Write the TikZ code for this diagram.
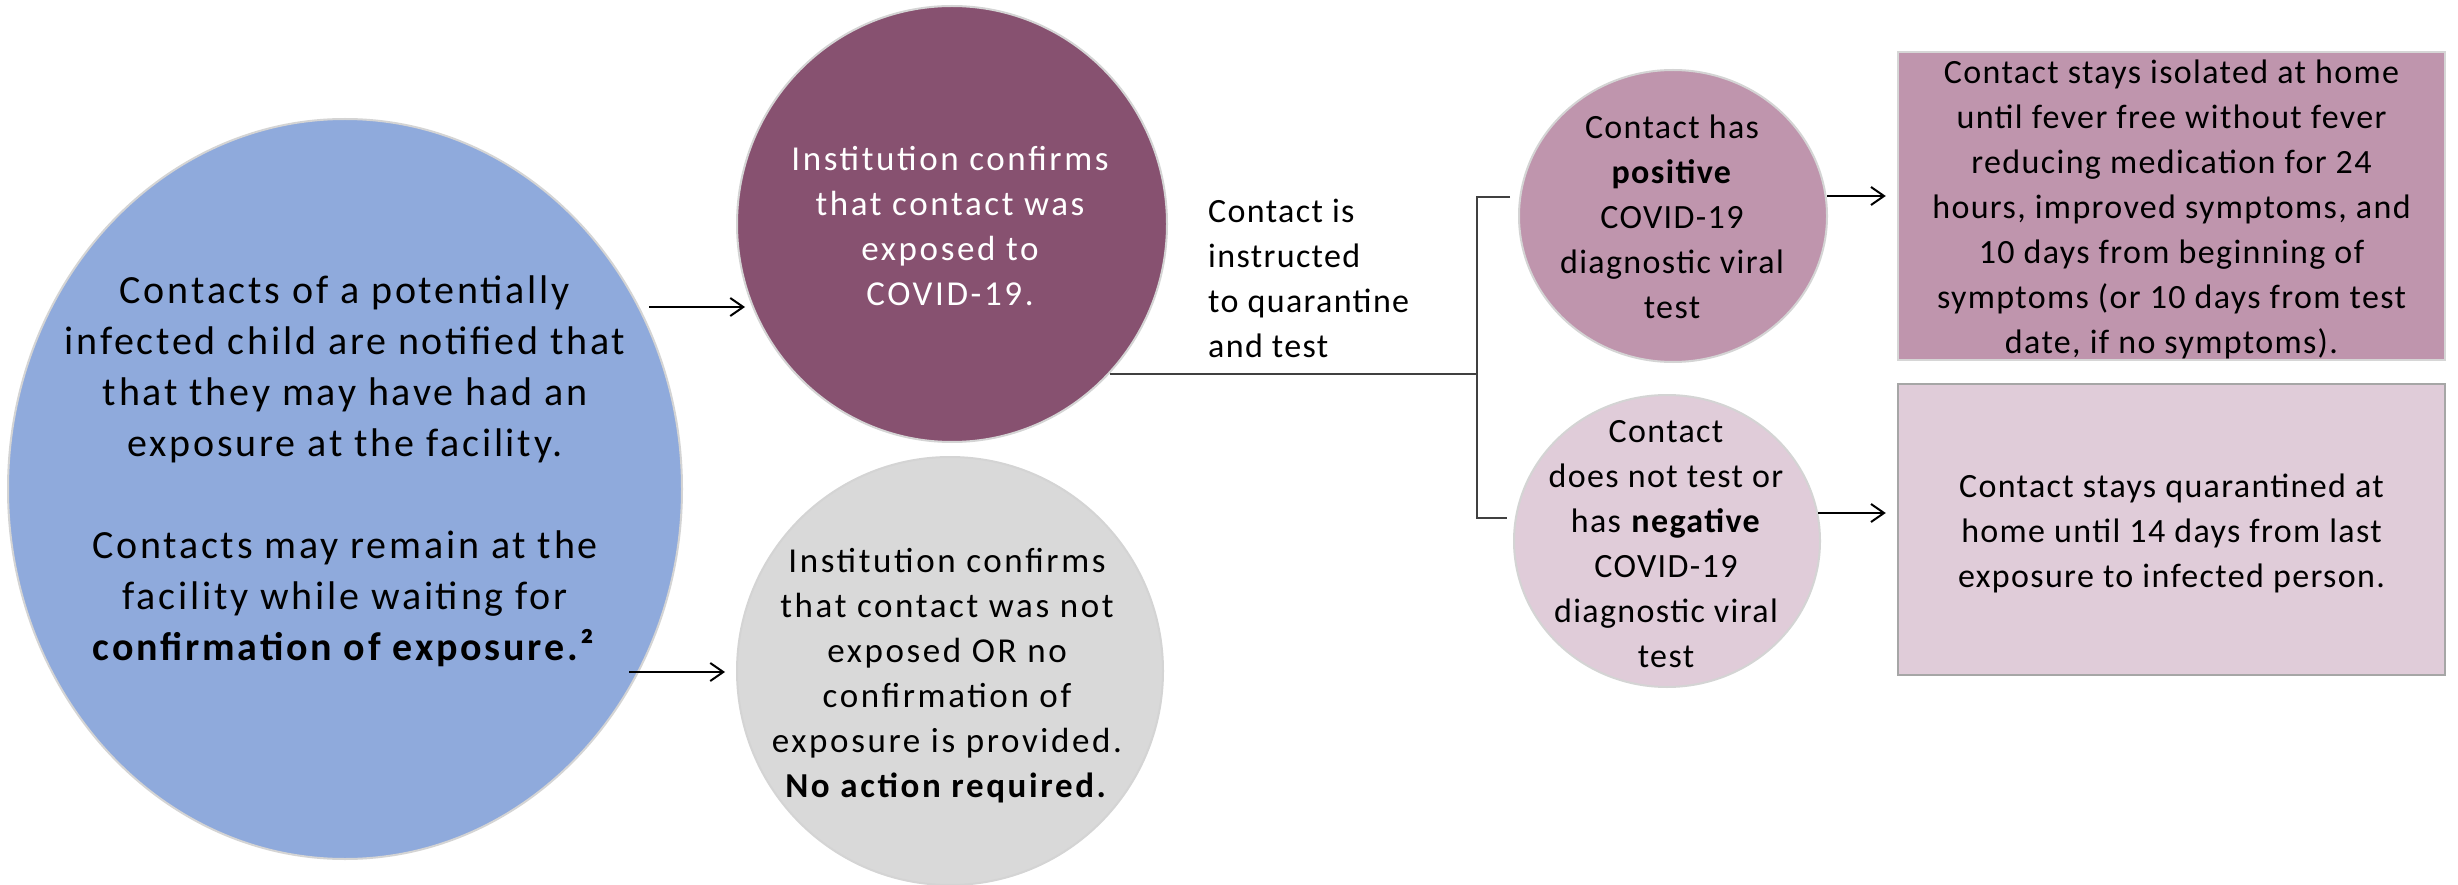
\documentclass[tikz,border=0pt]{standalone}
\usepackage{fontspec}
\setmainfont{Carlito}
\newfontfamily\fwide[LetterSpace=7]{Carlito}
\newfontfamily\fmid[LetterSpace=7.5]{Carlito}
\newfontfamily\fnarrow[LetterSpace=4]{Carlito}
\usetikzlibrary{shapes.geometric,arrows.meta,calc}
\definecolor{blueC}{HTML}{8FAADC}
\definecolor{purpleC}{HTML}{875170}
\definecolor{grayC}{HTML}{D9D9D9}
\definecolor{pinkC}{HTML}{BF95AD}
\definecolor{lpinkC}{HTML}{E0CCD9}
\definecolor{edgeC}{HTML}{D4D4D4}
\definecolor{boxedgeA}{HTML}{D6D6D6}
\definecolor{boxedgeB}{HTML}{A6A6A6}
\definecolor{lineC}{HTML}{404040}
\tikzset{
  circ/.style={ellipse, inner sep=0pt, draw=edgeC, line width=2pt},
  boxst/.style={rectangle, inner sep=0pt, line width=2.5pt},
  txt/.style={anchor=north, align=center, inner sep=0pt},
  bigfont/.style={font={\fwide\fontsize{40}{51}\selectfont}},
  midfont/.style={font={\fmid\fontsize{35}{45}\selectfont}},
  smallfont/.style={font={\fnarrow\fontsize{34}{45}\selectfont}},
  arr/.style={draw=black, line width=2pt, -{Straight Barb[length=13pt,width=18pt]}},
  conn/.style={draw=lineC, line width=2pt}
}
\begin{document}
\begin{tikzpicture}[x=1pt,y=-1pt]
\useasboundingbox (0,0) rectangle (2458,885);
\fill[white] (0,0) rectangle (2458,885);

% shapes
\node[circ, fill=blueC, minimum width=674, minimum height=740] (blue) at (345,489) {};
\node[circ, fill=purpleC, minimum width=430, minimum height=436] (purple) at (952,224) {};
\node[circ, fill=grayC, minimum width=426, minimum height=428] (gray) at (950,671) {};
\node[circ, fill=pinkC, minimum width=308, minimum height=292] (pos) at (1673,216) {};
\node[circ, fill=lpinkC, minimum width=306, minimum height=292] (neg) at (1667,541) {};
\node[boxst, fill=pinkC, draw=boxedgeA, minimum width=547, minimum height=308] (box1) at (2171.5,206) {};
\node[boxst, fill=lpinkC, draw=boxedgeB, minimum width=547, minimum height=291] (box2) at (2171.5,529.5) {};

% texts
\node[txt, bigfont] (btxt) at ($(blue.center)+(0,-221.7)$)
  {\strut Contacts of a potentially\\ infected child are notified that\\ that they may have had an\\ exposure at the facility.\\[51pt]
   Contacts may remain at the\\ facility while waiting for\\ \textbf{confirmation of exposure.²}};
\node[txt, midfont, text=white] (ptxt) at ($(purple.center)+(-2,-85.5)$)
  {\strut Institution confirms\\ that contact was\\ exposed to\\ COVID-19.};
\node[txt, midfont] (gtxt) at ($(gray.center)+(-3,-130.5)$)
  {\strut Institution confirms\\ that contact was not\\ exposed OR no\\ confirmation of\\ exposure is provided.\\ \textbf{No action required.}};
\node[txt, smallfont] (postxt) at ($(pos.center)+(-1,-109.5)$)
  {\strut Contact has\\ \textbf{positive}\\ COVID-19\\ diagnostic viral\\ test};
\node[txt, smallfont] (negtxt) at ($(neg.center)+(-1,-130.5)$)
  {\strut Contact\\ does not test or\\ has \textbf{negative}\\ COVID-19\\ diagnostic viral\\ test};
\node[txt, smallfont] (b1txt) at ($(box1.center)+(0,-154.5)$)
  {\strut Contact stays isolated at home\\ until fever free without fever\\ reducing medication for 24\\ hours, improved symptoms, and\\ 10 days from beginning of\\ symptoms (or 10 days from test\\ date, if no symptoms).};
\node[txt, smallfont] (b2txt) at ($(box2.center)+(0,-64)$)
  {\strut Contact stays quarantined at\\ home until 14 days from last\\ exposure to infected person.};
\node[smallfont, anchor=north west, align=left, inner sep=0pt] (instr) at (1208,190.5)
  {\strut Contact is\\ instructed\\ to quarantine\\ and test};

% connectors
\draw[arr] ($(blue.center)+(304,-182)$) -- ($(purple.center)+(-207,83)$);
\draw[arr] ($(blue.center)+(284,183)$) -- ($(gray.center)+(-225,1)$);
\coordinate (jn) at (1477,374);
\draw[conn] ($(purple.center)+(158,150)$) -- (jn);
\draw[conn] ($(pos.center)+(-163,-19)$) -| (jn) |- ($(neg.center)+(-160,-23)$);
\draw[arr] ($(pos.center)+(154,-20)$) -- ($(box1.west)+(-11,-10)$);
\draw[arr] ($(neg.center)+(151,-28)$) -- ($(box2.west)+(-11,-16.5)$);
\end{tikzpicture}
\end{document}
